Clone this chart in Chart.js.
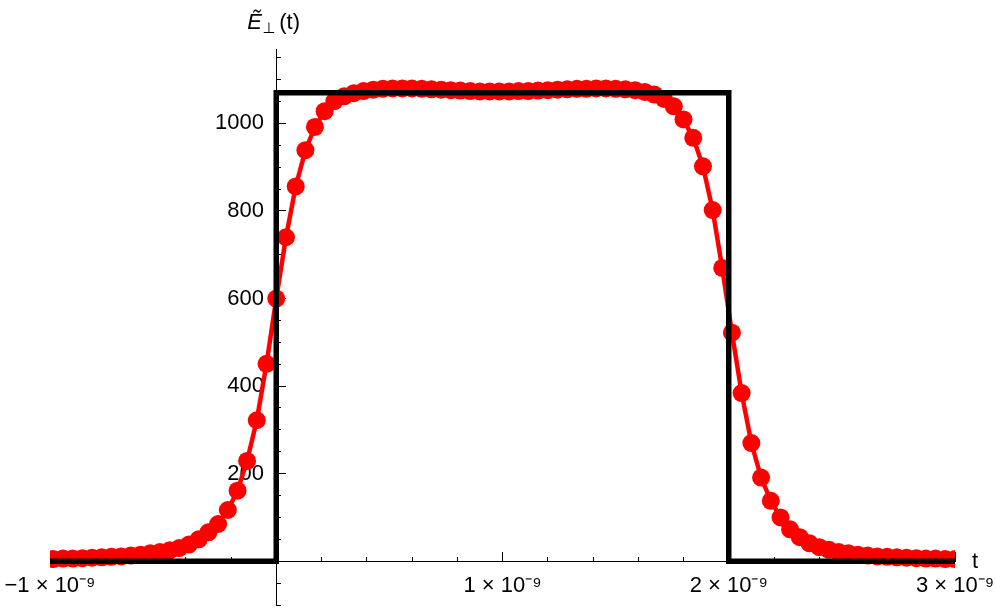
<!DOCTYPE html>
<html>
<head>
<meta charset="utf-8">
<script src="https://cdn.jsdelivr.net/npm/chart.js@4.4.0/dist/chart.umd.min.js"></script>
<style>
  html, body { margin: 0; padding: 0; background: #fff; }
  #wrap { width: 996px; height: 614px; }
</style>
</head>
<body>
<div id="wrap"><canvas id="chart" width="996" height="614"></canvas></div>
<script>
// sample times of the simulated field (units of 1e-9 s)
var sampleTimes = [
  -0.986, -0.943, -0.900, -0.857, -0.814, -0.771, -0.729, -0.686, -0.643, -0.600,
  -0.557, -0.514, -0.471, -0.429, -0.386, -0.343, -0.300, -0.257, -0.214, -0.171,
  -0.129, -0.086, -0.043, 0.000, 0.043, 0.086, 0.129, 0.171, 0.214, 0.257,
  0.300, 0.343, 0.386, 0.429, 0.471, 0.514, 0.557, 0.600, 0.643, 0.686,
  0.729, 0.771, 0.814, 0.857, 0.900, 0.943, 0.986, 1.029, 1.071, 1.114,
  1.157, 1.200, 1.243, 1.286, 1.329, 1.371, 1.414, 1.457, 1.500, 1.543,
  1.586, 1.629, 1.671, 1.714, 1.757, 1.800, 1.843, 1.886, 1.929, 1.971,
  2.014, 2.057, 2.100, 2.143, 2.186, 2.229, 2.271, 2.314, 2.357, 2.400,
  2.443, 2.486, 2.529, 2.571, 2.614, 2.657, 2.700, 2.743, 2.786, 2.829,
  2.871, 2.914, 2.957, 3.000
];
// E_perp(t)
var fieldValues = [
  5, 6, 6, 7, 8, 9, 10, 11, 13, 15,
  18, 21, 25, 30, 38, 50, 66, 85, 117, 161,
  229, 322, 451, 600, 740, 856, 939, 992, 1028, 1051,
  1062, 1069, 1074, 1077, 1079, 1080, 1080, 1080, 1079, 1078,
  1077, 1076, 1075, 1074, 1073, 1073, 1073, 1073, 1074, 1074,
  1075, 1076, 1077, 1078, 1079, 1079, 1080, 1080, 1079, 1078,
  1076, 1072, 1066, 1056, 1039, 1009, 967, 902, 802, 670,
  522, 384, 270, 191, 138, 100, 73, 55, 41, 32,
  26, 21, 18, 15, 13, 11, 10, 9, 8, 7,
  6, 6, 5, 5
];
// ideal rectangular pulse (black)
var pulseTimes = [-1, 0, 0, 2, 2, 3];
var pulseValues = [0, 0, 1070, 1070, 0, 0];

// tick labels
var xLabelValues = [-1, 1, 2, 3];
var xLabelTexts = ['\u22121 \u00d7 10\u207b\u2079', '1 \u00d7 10\u207b\u2079', '2 \u00d7 10\u207b\u2079', '3 \u00d7 10\u207b\u2079'];
var yLabelValues = [200, 400, 600, 800, 1000];

function toPoints(xs, ys) {
  var pts = [];
  for (var i = 0; i < xs.length; i++) pts.push({x: xs[i], y: ys[i]});
  return pts;
}

// axes sit inside the plot, so they must not take layout room
function noSpace(scale) {
  if (scale.isHorizontal()) scale.height = 0; else scale.width = 0;
  scale.paddingTop = 0; scale.paddingBottom = 0;
  scale.paddingLeft = 0; scale.paddingRight = 0;
}

var tickFont = {family: '"Liberation Sans", Arial, sans-serif', size: 22};

var axisTitles = {
  id: 'axisTitles',
  afterDraw: function(chart) {
    var ctx = chart.ctx;
    var x0 = chart.scales.x.getPixelForValue(0);
    var y0 = chart.scales.y.getPixelForValue(0);
    ctx.save();
    ctx.fillStyle = '#000';
    ctx.textBaseline = 'alphabetic';
    ctx.font = 'italic 22px "Liberation Sans", Arial, sans-serif';
    ctx.fillText('\u1ebc', x0 - 29, 29);
    ctx.font = '15px "DejaVu Sans", sans-serif';
    ctx.fillText('\u22a5', x0 - 14, 33);
    ctx.font = '22px "Liberation Sans", Arial, sans-serif';
    ctx.fillText('(t)', x0 + 3, 29);
    ctx.fillText('t', chart.chartArea.right + 17, y0 + 7);
    ctx.restore();
  }
};

var ctx = document.getElementById('chart').getContext('2d');
var chart = new Chart(ctx, {
  type: 'line',
  data: {
    datasets: [
      {
        label: 'pulse',
        data: toPoints(pulseTimes, pulseValues),
        borderColor: '#000',
        borderWidth: 5.5,
        pointRadius: 0,
        fill: false,
        tension: 0,
        clip: 0
      },
      {
        label: 'field',
        data: toPoints(sampleTimes, fieldValues),
        borderColor: '#ff0000',
        backgroundColor: '#ff0000',
        borderWidth: 4.5,
        pointRadius: 9,
        pointBorderWidth: 0,
        pointBackgroundColor: '#ff0000',
        fill: false,
        tension: 0,
        clip: 0
      }
    ]
  },
  options: {
    responsive: false,
    devicePixelRatio: 1,
    animation: false,
    layout: {padding: {left: 50, right: 41, top: 49, bottom: 6}},
    plugins: {legend: {display: false}, tooltip: {enabled: false}},
    scales: {
      x: {
        type: 'linear', min: -1, max: 3, position: {y: 0},
        afterFit: noSpace,
        border: {display: true, color: '#000', width: 1},
        grid: {drawOnChartArea: false, drawTicks: true, tickLength: -5, color: '#000', tickWidth: 1},
        ticks: {
          stepSize: 0.2, autoSkip: false, maxRotation: 0, includeBounds: false,
          padding: 17, color: '#000', font: tickFont,
          callback: function(v) {
            for (var i = 0; i < xLabelValues.length; i++) {
              if (Math.abs(v - xLabelValues[i]) < 1e-6) return xLabelTexts[i];
            }
            return '';
          }
        }
      },
      xMajor: {
        type: 'linear', axis: 'x', min: -1, max: 3, position: {y: 0},
        afterFit: noSpace,
        border: {display: false},
        grid: {drawOnChartArea: false, tickLength: -9, color: '#000', tickWidth: 1},
        ticks: {stepSize: 1, autoSkip: false, includeBounds: false, display: true, callback: function() { return ''; }}
      },
      y: {
        type: 'linear', min: -100, max: 1170, position: {x: 0},
        afterFit: noSpace,
        border: {display: true, color: '#000', width: 1},
        grid: {drawOnChartArea: false, drawTicks: true, tickLength: -5, color: '#000', tickWidth: 1},
        ticks: {
          stepSize: 50, autoSkip: false, includeBounds: false,
          color: '#000', font: tickFont,
          // labels are right-aligned on the axis line; trailing spaces give the gap
          callback: function(v) {
            return yLabelValues.indexOf(v) >= 0 ? String(v) + '  ' : '';
          }
        }
      },
      yMajor: {
        type: 'linear', axis: 'y', min: -100, max: 1170, position: {x: 0},
        afterFit: noSpace,
        border: {display: false},
        grid: {drawOnChartArea: false, tickLength: -10, color: '#000', tickWidth: 1},
        ticks: {stepSize: 200, autoSkip: false, includeBounds: false, display: true, callback: function() { return ''; }}
      }
    }
  },
  plugins: [axisTitles]
});
</script>
</body>
</html>
